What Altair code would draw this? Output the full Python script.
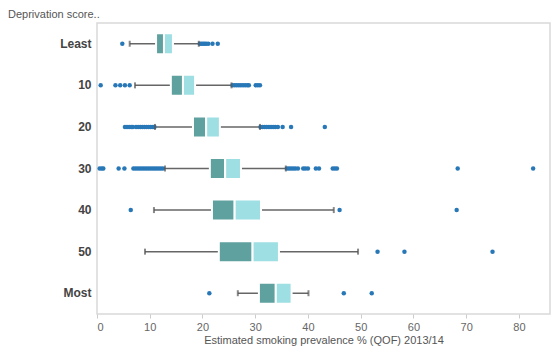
import altair as alt
import pandas as pd

categories = ["Least", "10", "20", "30", "40", "50", "Most"]
lower_whisker = [6.2, 7.2, 11.0, 12.9, 10.8, 9.1, 26.7]
q1 = [11.2, 14.0, 18.2, 21.4, 21.8, 23.1, 30.7]
median = [12.7, 16.3, 20.7, 24.3, 26.1, 29.5, 33.9]
q3 = [14.4, 18.6, 23.3, 27.3, 31.1, 34.5, 36.9]
upper_whisker = [19.3, 25.5, 30.9, 35.8, 44.9, 49.5, 40.1]

outliers_least = [4.8, 19.5, 19.8, 20.1, 20.4, 20.7, 21.1, 21.9, 22.9]
outliers_10 = [0.7, 3.5, 4.4, 5.3, 6.2, 25.7, 26.1, 26.5, 26.9, 27.3, 27.7, 28.1,
               28.5, 28.8, 30.1, 30.5, 30.9]
outliers_20 = [5.3, 5.7, 6.1, 6.5, 6.8, 7.4, 7.8, 8.2, 8.6, 9.0, 9.4, 9.8, 10.2,
               10.6, 10.9, 31.0, 31.4, 31.8, 32.2, 32.6, 33.0, 33.4, 33.8, 34.3,
               35.2, 36.8, 43.2]
outliers_30 = [0.5, 0.9, 1.2, 4.1, 5.2, 6.9, 7.3, 7.7, 8.1, 8.5, 8.9, 9.3, 9.7,
               10.1, 10.5, 10.9, 11.3, 11.7, 12.1, 12.5, 36.0, 36.4, 36.8, 37.2,
               37.6, 38.1, 39.1, 39.5, 40.0, 41.5, 42.1, 44.7, 45.1, 45.5, 68.4, 82.7]
outliers_40 = [6.4, 46.0, 68.2]
outliers_50 = [53.2, 58.3, 75.0]
outliers_most = [21.3, 46.8, 52.1]

x_ticks = [0, 10, 20, 30, 40, 50, 60, 70, 80]

FONT = "Liberation Sans"
DARK = "#5EA19F"
LIGHT = "#9DDFE3"
BLUE = "#2878B8"

stats = pd.DataFrame({
    "cat": categories,
    "lw": lower_whisker,
    "q1": q1,
    "med": median,
    "q3": q3,
    "uw": upper_whisker,
})

out_lists = [outliers_least, outliers_10, outliers_20, outliers_30,
             outliers_40, outliers_50, outliers_most]
rows = []
for c, vals in zip(categories, out_lists):
    for v in vals:
        rows.append({"cat": c, "value": v})
outliers = pd.DataFrame(rows)

xscale = alt.Scale(domain=[0, 85.9], nice=False, zero=False)
yscale = alt.Scale(domain=categories, paddingInner=0, paddingOuter=0)

xaxis = alt.Axis(values=x_ticks, grid=False, domain=False, tickColor="#cccccc",
                 tickSize=4, labelColor="#666666", labelFontSize=11, labelFont=FONT,
                 labelPadding=3, titleFont=FONT, titleFontSize=11,
                 titleColor="#555555", titleFontWeight="normal", titlePadding=2)
yaxis = alt.Axis(ticks=False, domain=False, grid=False, labelFontWeight="bold",
                 labelFontSize=12, labelColor="#444444", labelFont=FONT,
                 labelPadding=6)

base = alt.Chart(stats)

y_enc = alt.Y("cat:N", scale=yscale, axis=yaxis, title=None)

whisker = base.mark_rule(color="#666666", strokeWidth=1.5).encode(
    x=alt.X("lw:Q", scale=xscale, axis=xaxis,
            title="Estimated smoking prevalence % (QOF) 2013/14"),
    x2="uw:Q",
    y=y_enc,
)

points = alt.Chart(outliers).mark_circle(size=20, color=BLUE, opacity=1).encode(
    x=alt.X("value:Q", scale=xscale),
    y=alt.Y("cat:N", scale=yscale),
)

cap_lo = base.mark_tick(color="#555555", thickness=2, size=6).encode(
    x=alt.X("lw:Q", scale=xscale),
    y=alt.Y("cat:N", scale=yscale),
)
cap_hi = base.mark_tick(color="#555555", thickness=2, size=6).encode(
    x=alt.X("uw:Q", scale=xscale),
    y=alt.Y("cat:N", scale=yscale),
)

box_lo = base.mark_bar(size=21, color=DARK, stroke="white", strokeWidth=2).encode(
    x=alt.X("q1:Q", scale=xscale),
    x2="med:Q",
    y=alt.Y("cat:N", scale=yscale),
)
box_hi = base.mark_bar(size=21, color=LIGHT, stroke="white", strokeWidth=2).encode(
    x=alt.X("med:Q", scale=xscale),
    x2="q3:Q",
    y=alt.Y("cat:N", scale=yscale),
)

chart = alt.layer(whisker, points, cap_lo, cap_hi, box_lo, box_hi).properties(
    width=453,
    height=291,
    autosize="none",
    padding={"left": 89, "top": 15, "right": 1, "bottom": 35},
    title=alt.TitleParams("Deprivation score..", anchor="start", frame="group",
                          dx=-89, fontSize=11, color="#555555",
                          fontWeight="normal", font=FONT, offset=3),
).configure_view(stroke="#d9d9d9", strokeWidth=1.5)

chart.save("out.html", embed_options={"renderer": "svg", "actions": False})
